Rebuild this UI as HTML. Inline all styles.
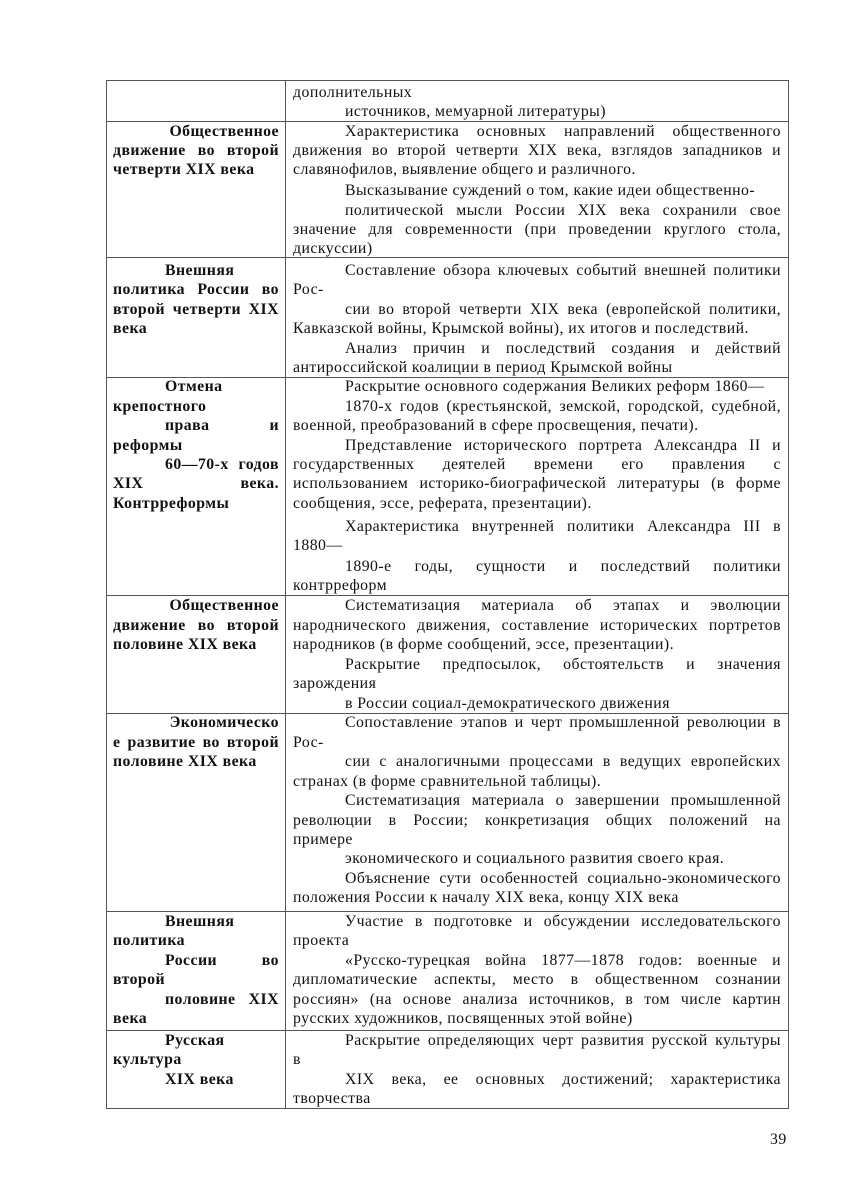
<!DOCTYPE html>
<html><head><meta charset="utf-8"><style>
html,body{margin:0;padding:0;background:#fff;}
body{width:848px;height:1199px;position:relative;overflow:hidden;font-family:"Liberation Serif","DejaVu Serif",serif;font-size:15.8px;letter-spacing:0.45px;color:#111;}
.l{position:absolute;height:19px;line-height:19px;white-space:nowrap;}
.j{text-align:justify;text-align-last:justify;white-space:normal;overflow:hidden;}
.r{left:293px;width:488px;}
.ri{left:345px;width:436px;}
.c{left:113px;width:166px;font-weight:bold;}
.ci{left:165px;width:114px;font-weight:bold;}
.c.j,.ci.j{overflow:visible;}
.rt{text-align:right;}
.h{position:absolute;left:106px;width:683px;height:1px;background:#555;}
.v{position:absolute;top:80px;height:1029px;width:1px;background:#555;}
</style></head><body>
<div class="v" style="left:106px"></div>
<div class="v" style="left:285px"></div>
<div class="v" style="left:788px"></div>
<div class="h" style="top:80px"></div>
<div class="h" style="top:121px"></div>
<div class="h" style="top:257px"></div>
<div class="h" style="top:377px"></div>
<div class="h" style="top:595px"></div>
<div class="h" style="top:713px"></div>
<div class="h" style="top:911px"></div>
<div class="h" style="top:1030px"></div>
<div class="h" style="top:1108px"></div>

<div class="l r" style="top:83px">дополнительных</div>
<div class="l ri" style="top:102px">источников, мемуарной литературы)</div>

<div class="l c rt" style="top:122px">Общественное</div>
<div class="l c j" style="top:141px">движение во второй</div>
<div class="l c" style="top:160px">четверти XIX века</div>
<div class="l ri j" style="top:122px">Характеристика основных направлений общественного</div>
<div class="l r j" style="top:141px">движения во второй четверти XIX века, взглядов западников и</div>
<div class="l r" style="top:160px">славянофилов, выявление общего и различного.</div>
<div class="l ri" style="top:181px">Высказывание суждений о том, какие идеи общественно-</div>
<div class="l ri j" style="top:201px">политической мысли России XIX века сохранили свое</div>
<div class="l r j" style="top:220px">значение для современности (при проведении круглого стола,</div>
<div class="l r" style="top:239px">дискуссии)</div>

<div class="l ci" style="top:261px">Внешняя</div>
<div class="l c j" style="top:280px">политика России во</div>
<div class="l c j" style="top:300px">второй четверти XIX</div>
<div class="l c" style="top:319px">века</div>
<div class="l ri j" style="top:261px">Составление обзора ключевых событий внешней политики</div>
<div class="l r" style="top:280px">Рос-</div>
<div class="l ri j" style="top:300px">сии во второй четверти XIX века (европейской политики,</div>
<div class="l r" style="top:319px">Кавказской войны, Крымской войны), их итогов и последствий.</div>
<div class="l ri j" style="top:339px">Анализ причин и последствий создания и действий</div>
<div class="l r" style="top:358px">антироссийской коалиции в период Крымской войны</div>

<div class="l ci" style="top:377px">Отмена</div>
<div class="l c" style="top:397px">крепостного</div>
<div class="l ci j" style="top:416px">права и</div>
<div class="l c" style="top:436px">реформы</div>
<div class="l ci j" style="top:455px">60—70-х годов</div>
<div class="l c j" style="top:474px">XIX века.</div>
<div class="l c" style="top:494px">Контрреформы</div>
<div class="l ri" style="top:377px">Раскрытие основного содержания Великих реформ 1860—</div>
<div class="l ri j" style="top:397px">1870-х годов (крестьянской, земской, городской, судебной,</div>
<div class="l r" style="top:416px">военной, преобразований в сфере просвещения, печати).</div>
<div class="l ri j" style="top:436px">Представление исторического портрета Александра II и</div>
<div class="l r j" style="top:455px">государственных деятелей времени его правления с</div>
<div class="l r j" style="top:474px">использованием историко-биографической литературы (в форме</div>
<div class="l r" style="top:494px">сообщения, эссе, реферата, презентации).</div>
<div class="l ri j" style="top:517px">Характеристика внутренней политики Александра III в</div>
<div class="l r" style="top:536px">1880—</div>
<div class="l ri j" style="top:557px">1890-е годы, сущности и последствий политики</div>
<div class="l r" style="top:576px">контрреформ</div>

<div class="l c rt" style="top:596px">Общественное</div>
<div class="l c j" style="top:616px">движение во второй</div>
<div class="l c" style="top:635px">половине XIX века</div>
<div class="l ri j" style="top:596px">Систематизация материала об этапах и эволюции</div>
<div class="l r j" style="top:616px">народнического движения, составление исторических портретов</div>
<div class="l r" style="top:635px">народников (в форме сообщений, эссе, презентации).</div>
<div class="l ri j" style="top:655px">Раскрытие предпосылок, обстоятельств и значения</div>
<div class="l r" style="top:674px">зарождения</div>
<div class="l ri" style="top:694px">в России социал-демократического движения</div>

<div class="l c rt" style="top:713px">Экономическо</div>
<div class="l c j" style="top:733px">е развитие во второй</div>
<div class="l c" style="top:752px">половине XIX века</div>
<div class="l ri j" style="top:713px">Сопоставление этапов и черт промышленной революции в</div>
<div class="l r" style="top:733px">Рос-</div>
<div class="l ri j" style="top:752px">сии с аналогичными процессами в ведущих европейских</div>
<div class="l r" style="top:772px">странах (в форме сравнительной таблицы).</div>
<div class="l ri j" style="top:791px">Систематизация материала о завершении промышленной</div>
<div class="l r j" style="top:811px">революции в России; конкретизация общих положений на</div>
<div class="l r" style="top:830px">примере</div>
<div class="l ri" style="top:849px">экономического и социального развития своего края.</div>
<div class="l ri j" style="top:869px">Объяснение сути особенностей социально-экономического</div>
<div class="l r" style="top:888px">положения России к началу XIX века, концу XIX века</div>

<div class="l ci" style="top:912px">Внешняя</div>
<div class="l c" style="top:931px">политика</div>
<div class="l ci j" style="top:951px">России во</div>
<div class="l c" style="top:970px">второй</div>
<div class="l ci j" style="top:990px">половине XIX</div>
<div class="l c" style="top:1009px">века</div>
<div class="l ri j" style="top:912px">Участие в подготовке и обсуждении исследовательского</div>
<div class="l r" style="top:931px">проекта</div>
<div class="l ri j" style="top:951px">«Русско-турецкая война 1877—1878 годов: военные и</div>
<div class="l r j" style="top:970px">дипломатические аспекты, место в общественном сознании</div>
<div class="l r j" style="top:990px">россиян» (на основе анализа источников, в том числе картин</div>
<div class="l r" style="top:1009px">русских художников, посвященных этой войне)</div>

<div class="l ci" style="top:1031px">Русская</div>
<div class="l c" style="top:1050px">культура</div>
<div class="l ci" style="top:1070px">XIX века</div>
<div class="l ri j" style="top:1031px">Раскрытие определяющих черт развития русской культуры</div>
<div class="l r" style="top:1050px">в</div>
<div class="l ri j" style="top:1070px">XIX века, ее основных достижений; характеристика</div>
<div class="l r" style="top:1089px">творчества</div>

<div class="l" style="left:770px;top:1130px;">39</div>
</body></html>
